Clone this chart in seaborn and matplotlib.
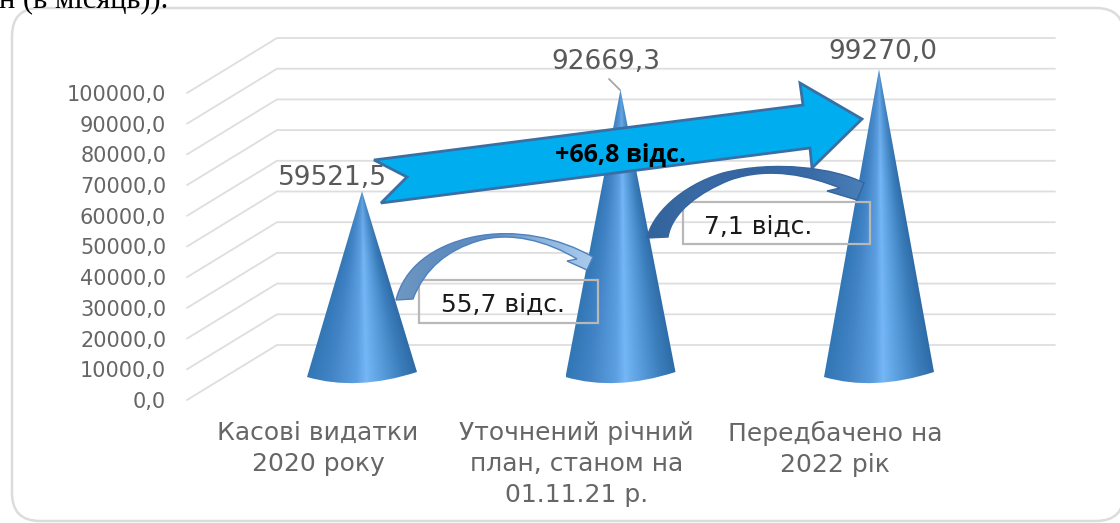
import matplotlib

matplotlib.use("Agg")
import matplotlib.pyplot as plt
import numpy as np
import seaborn as sns
from matplotlib.colors import to_rgb
from matplotlib.patches import FancyBboxPatch, PathPatch, Polygon, Rectangle
from matplotlib.path import Path

categories = [
    "Касові видатки\n2020 року",
    "Уточнений річний\nплан, станом на\n01.11.21 р.",
    "Передбачено на\n2022 рік",
]
values = [59521.5, 92669.3, 99270.0]
value_labels = ["59521,5", "92669,3", "99270,0"]
y_ticks = [0, 10000, 20000, 30000, 40000, 50000, 60000, 70000, 80000, 90000, 100000]

W, H = 1120, 523
GREY = "#dedede"
TEXT = "#666666"

# 3d look: px sizes of the chart box
PX_X = 258.5
PX_Y = 307 / 100000
DEPTH_X, DEPTH_Y = 90 / PX_X, 55 / PX_Y
CONE_DX, CONE_DY = 44 / PX_X, 26 / PX_Y

sns.set_theme(style="white")
plt.rcParams["font.family"] = ["DejaVu Sans"]

fig = plt.figure(figsize=(W / 100, H / 100), dpi=100, facecolor="white")

# rounded frame goes behind everything, it runs off the right edge of the page
bg = fig.add_axes([0, 0, 1, 1], facecolor="none")
bg.set_xlim(0, W)
bg.set_ylim(H, 0)
bg.axis("off")
bg.add_patch(
    FancyBboxPatch(
        (12 + 28, 8 + 28),
        1112 - 56,
        513 - 56,
        boxstyle="round,pad=28,rounding_size=28",
        fc="white",
        ec="#dcdcdc",
        lw=1.8,
        clip_on=False,
    )
)

ax = fig.add_axes([187 / W, (H - 400) / H, 868 / W, 307 / H], facecolor="none")

sns.barplot(x=categories, y=values, width=110 / PX_X, ax=ax, color="#4f8fd0")
x0, x1 = (187 - 318) / PX_X, (1055 - 318) / PX_X
ax.set_xlim(x0, x1)
ax.set_ylim(0, 100000)

# floor and back wall lines
for v in y_ticks:
    ax.plot(
        [x0, x0 + DEPTH_X, x1],
        [v, v + DEPTH_Y, v + DEPTH_Y],
        color=GREY,
        lw=1.3,
        clip_on=False,
        zorder=1,
    )

# cone colours across the width
u_stops = [-1.0, -0.55, -0.1, 0.08, 0.35, 0.75, 1.0]
cone_stops = ["#3176b5", "#4284c6", "#5c9fe0", "#74b6f6", "#5a9edd", "#3a7cba", "#2e6ca8"]
cone_rgb = np.array([to_rgb(c) for c in cone_stops])

for bar, val in zip(list(ax.patches), values):
    xc = bar.get_x() + bar.get_width() / 2 + CONE_DX
    hw = bar.get_width() / 2
    bar.set_visible(False)
    base = CONE_DY
    tip = base + val
    verts = [
        (xc, tip),
        (xc + hw, base + 2 / PX_Y),
        (xc - 0.02, base - 17.5 / PX_Y),
        (xc - hw, base - 3 / PX_Y),
        (xc, tip),
    ]
    codes = [Path.MOVETO, Path.LINETO, Path.CURVE3, Path.CURVE3, Path.CLOSEPOLY]
    cone = Path(verts, codes)

    xs = np.linspace(xc - hw, xc + hw, 240)
    ys = np.linspace(base - 12 / PX_Y, tip, 500)
    gx, gy = np.meshgrid(xs, ys)
    width_here = hw * np.clip((tip - gy) / (tip - base), 0.002, None)
    u = np.clip((gx - xc) / width_here, -1, 1)
    rgb = np.dstack([np.interp(u, u_stops, cone_rgb[:, i]) for i in range(3)])
    # the tip is narrow and washes out to a flat blue
    wash = np.clip((gy - (tip - 0.35 * val)) / (0.35 * val), 0, 1)[..., None] * 0.6
    rgb = rgb * (1 - wash) + np.array(to_rgb("#5898d6")) * wash
    im = ax.imshow(
        rgb,
        origin="lower",
        extent=(xs[0], xs[-1], ys[0], ys[-1]),
        aspect="auto",
        zorder=3,
        interpolation="bilinear",
    )
    im.set_clip_path(PathPatch(cone, transform=ax.transData))
    im.set_clip_box(fig.bbox)

ax.set_xlim(x0, x1)
ax.set_ylim(0, 100000)
sns.despine(ax=ax, left=True, bottom=True)
ax.set_yticks(y_ticks)
ax.set_yticklabels([f"{v:.1f}".replace(".", ",") for v in y_ticks], fontsize=15, color=TEXT)
ax.tick_params(axis="y", length=0, pad=15)
ax.set_xticks(range(len(categories)))
ax.set_xticklabels(categories, fontsize=18, color=TEXT, linespacing=1.38)
ax.tick_params(axis="x", length=0, pad=15)

# value labels above the tips
label_shift = [(-30, 13), (-15, 28), (4, 17)]
for i, (val, lab) in enumerate(zip(values, value_labels)):
    ax.annotate(
        lab,
        xy=(i + CONE_DX, CONE_DY + val),
        xytext=(label_shift[i][0] * 0.72, label_shift[i][1] * 0.72),
        textcoords="offset points",
        ha="center",
        va="center",
        fontsize=19,
        color="#595959",
        annotation_clip=False,
        zorder=4,
    )

# overlay in pixels for the drawn shapes on top of the chart
ov = fig.add_axes([0, 0, 1, 1], facecolor="none")
ov.set_xlim(0, W)
ov.set_ylim(H, 0)
ov.axis("off")

ov.plot([609, 620], [79, 90], color="#a6a6a6", lw=1.3)

big_arrow = [
    (374, 160),
    (803, 105),
    (800, 83),
    (862, 119),
    (812, 168),
    (810, 148),
    (381, 203),
    (407, 177),
]
ov.add_patch(Polygon(big_arrow, closed=True, fc="#00aeef", ec="#3a6fa5", lw=2, zorder=5))
ov.text(
    620,
    155,
    "+66,8 відс.",
    ha="center",
    va="center",
    fontsize=18,
    fontweight="bold",
    family="Open Sans",
    color="black",
    zorder=6,
)


def curved_arrow(verts, colors, edge, zorder):
    codes = [Path.MOVETO]
    codes += [Path.CURVE4] * (len(verts) - 1)
    path = Path(verts + [verts[0]], codes + [Path.CLOSEPOLY])
    xs = [p[0] for p in verts]
    ys = [p[1] for p in verts]
    grad = np.linspace(0, 1, 200)[None, :]
    rgb = np.dstack(
        [np.interp(grad, np.linspace(0, 1, len(colors)), [to_rgb(c)[i] for c in colors]) for i in range(3)]
    )
    im = ov.imshow(rgb, extent=(min(xs), max(xs), max(ys), min(ys)), aspect="auto", zorder=zorder)
    im.set_clip_path(PathPatch(path, transform=ov.transData))
    ov.add_patch(PathPatch(path, fc="none", ec=edge, lw=1, zorder=zorder))


def arrow_path(outer, head, inner):
    # outer and inner are runs of cubic segments, head is straight, so repeat points for the lines
    pts = list(outer)
    for p in head:
        pts += [pts[-1], p, p]
    pts += inner
    return pts


left_arrow = arrow_path(
    [(396, 300), (404, 268), (432, 246), (473, 237), (515, 228), (560, 238), (593, 257)],
    [(587, 270), (567, 261), (577, 259)],
    [(547, 241), (510, 231), (478, 241), (448, 250), (425, 268), (413, 299)],
)
curved_arrow(left_arrow, ["#6f97c2", "#5f8cbf", "#5f8fc4", "#8fb6de", "#a9cbed"], "#4f81bd", 5)

right_arrow = arrow_path(
    [(647, 238), (652, 215), (680, 186), (723, 173), (775, 160), (835, 168), (864, 183)],
    [(857, 200), (827, 191), (840, 188)],
    [(810, 176), (770, 166), (730, 180), (700, 192), (672, 212), (668, 237)],
)
curved_arrow(right_arrow, ["#33639b", "#3a6ba6", "#34659f", "#3a6ba6", "#4a7fba"], "#34659f", 5)

for x, y, w, h, lab, cx, cy in [
    (419, 280, 179, 43, "55,7 відс.", 503, 305),
    (683, 202, 187, 42, "7,1 відс.", 758, 227),
]:
    ov.add_patch(Rectangle((x, y), w, h, fc="none", ec="#b8b8b8", lw=1.6, zorder=4))
    ov.text(cx, cy, lab, ha="center", va="center", fontsize=18, color="#1a1a1a", zorder=6)

# tail of the sentence above the picture, cut by the page edge
fig.text(-1 / W, 1 - 7 / H, "н (в місяць)).", family="Liberation Serif", fontsize=22, color="black", va="baseline")

fig.savefig("out.png", dpi=100)
